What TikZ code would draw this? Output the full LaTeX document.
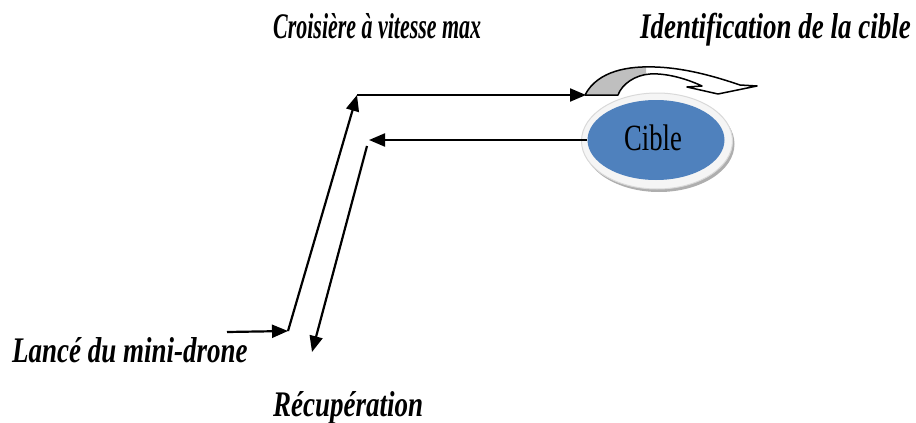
\documentclass[tikz,border=0pt]{standalone}
\usepackage{fontspec}
\setmainfont{Liberation Serif}
\usetikzlibrary{arrows.meta,shapes.geometric,shadows}
\newcommand\lblfont[2]{\scalebox{#1}[1]{\fontsize{36}{40}\selectfont\bfseries\itshape #2}}
\begin{document}
\begin{tikzpicture}[x=1pt,y=-1pt,
  flow/.style={line width=2.2pt,-{Triangle[length=16pt,width=13pt]}},
  lbl/.style={anchor=base west,inner sep=0pt},
  rim/.style={ellipse,minimum width=151pt,minimum height=96pt,draw=black!15,line width=1pt,
    fill=black!4,drop shadow={shadow xshift=2pt,shadow yshift=-3pt,fill=black!45,opacity=0.7}},
  target/.style={ellipse,minimum width=137pt,minimum height=80pt,inner sep=0pt}]
\useasboundingbox (0,0) rectangle (916,423);
\definecolor{cibleblue}{RGB}{79,129,189}
% target
\node[rim] (rimnode) at (657,141) {};
\node[target,fill=cibleblue] (cible) at (656,140) {};
\node (cibletxt) at (653,138) {\scalebox{0.72}[1]{\fontsize{37}{40}\selectfont Cible}};
% curved arrow (identification)
\begin{scope}
\clip (570,50) rectangle (646,100);
\fill[black!25] (585,95) .. controls (598,70) and (630,66) .. (655,67)
  -- (650,74) .. controls (635,75) and (622,84) .. (618,95) -- cycle;
\end{scope}
\draw[line width=1.5pt,line join=round] (585,95) .. controls (598,70) and (630,66) .. (655,67)
  .. controls (690,68) and (725,80) .. (740,85)
  -- (757,86) -- (718,94) -- (687,87) -- (702,86)
  .. controls (685,78) and (665,73) .. (650,74)
  .. controls (635,75) and (622,84) .. (618,95) -- cycle;
% coordinates
\coordinate (start) at (227,332);
\coordinate (c1) at (288,331);
\coordinate (c2) at (357,95);
\coordinate (foot) at (586,95);
\coordinate (r1) at (369,140);
\coordinate (r1b) at (367,146);
\coordinate (r2) at (312,352);
% connectors
\draw[flow] (start) -- (c1);
\draw[flow] (c1) -- (c2);
\draw[flow] (c2) -- (foot);
\draw[flow] (cible.west) -- (r1);
\draw[flow] (r1b) -- (r2);
% labels
\node[lbl] (croisiere) at (273,38) {\lblfont{0.61}{Croisière à vitesse max}};
\node[lbl] (ident) at (640,38) {\lblfont{0.75}{Identification de la cible}};
\node[lbl] (lance) at (12,362) {\lblfont{0.75}{Lancé du mini-drone}};
\node[lbl] (recup) at (273,416) {\lblfont{0.75}{Récupération}};
\end{tikzpicture}
\end{document}
